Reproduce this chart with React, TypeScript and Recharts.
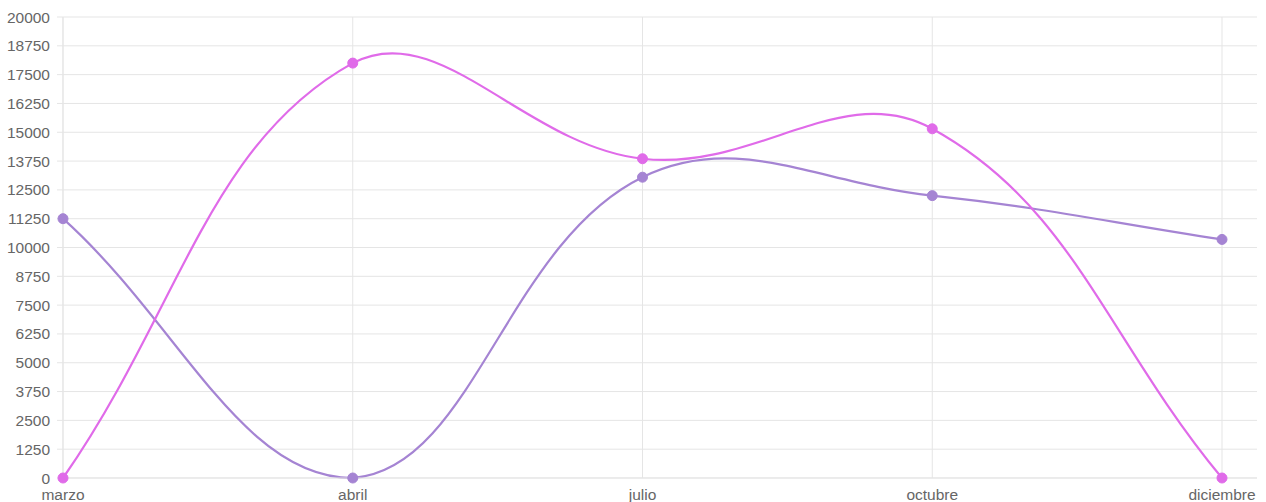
import React from 'react'
import { LineChart, Line, XAxis, YAxis, CartesianGrid, ReferenceLine } from 'recharts'

const months = ['marzo', 'abril', 'julio', 'octubre', 'diciembre']
const pinkValues = [0, 18000, 13850, 15150, 0]
const purpleValues = [11250, 0, 13050, 12250, 10350]
const yTicks = [
  0, 1250, 2500, 3750, 5000, 6250, 7500, 8750, 10000, 11250, 12500, 13750, 15000,
  16250, 17500, 18750, 20000,
]

const WIDTH = 1266
const HEIGHT = 502
const MARGIN = { top: 17, right: 9, bottom: 0, left: 0 }
const Y_AXIS_WIDTH = 63
const X_AXIS_HEIGHT = 24

// plot area, used to cap the bezier control points like chart.js does
const area = {
  left: MARGIN.left + Y_AXIS_WIDTH,
  right: WIDTH - MARGIN.right,
  top: MARGIN.top,
  bottom: HEIGHT - MARGIN.bottom - X_AXIS_HEIGHT,
}

const clamp = (v: number, lo: number, hi: number) => Math.max(lo, Math.min(hi, v))

// chart.js style spline (tension 0.4) as a d3 curve factory
const splineCurve = (tension: number) => (context: any) => {
  let pts: number[][] = []
  return {
    areaStart() {},
    areaEnd() {},
    lineStart() {
      pts = []
    },
    point(x: number, y: number) {
      pts.push([+x, +y])
    },
    lineEnd() {
      const n = pts.length
      if (!n) return
      const cps = pts.map((p, i) => {
        const prev = pts[i - 1] || p
        const next = pts[i + 1] || p
        const d01 = Math.hypot(p[0] - prev[0], p[1] - prev[1])
        const d12 = Math.hypot(next[0] - p[0], next[1] - p[1])
        let s01 = d01 / (d01 + d12)
        let s12 = d12 / (d01 + d12)
        if (isNaN(s01)) s01 = 0
        if (isNaN(s12)) s12 = 0
        const fa = tension * s01
        const fb = tension * s12
        const before = [
          clamp(p[0] - fa * (next[0] - prev[0]), area.left, area.right),
          clamp(p[1] - fa * (next[1] - prev[1]), area.top, area.bottom),
        ]
        const after = [
          clamp(p[0] + fb * (next[0] - prev[0]), area.left, area.right),
          clamp(p[1] + fb * (next[1] - prev[1]), area.top, area.bottom),
        ]
        return { before, after }
      })
      context.moveTo(pts[0][0], pts[0][1])
      for (let i = 1; i < n; i++) {
        const a = cps[i - 1].after
        const b = cps[i].before
        context.bezierCurveTo(a[0], a[1], b[0], b[1], pts[i][0], pts[i][1])
      }
    },
  }
}

const curve = splineCurve(0.4)

const data = months.map((month, i) => ({
  month,
  pink: pinkValues[i],
  purple: purpleValues[i],
}))

const PINK = '#e06be9'
const PURPLE = '#a584d3'
const GRID = '#e5e5e5'
const FONT = "'Liberation Sans', Arial, sans-serif"

export default function App() {
  return (
    <div style={{ position: 'absolute', left: 0, top: 0, width: WIDTH, height: HEIGHT, background: '#fff' }}>
      <LineChart width={WIDTH} height={HEIGHT} data={data} margin={MARGIN}>
        <CartesianGrid stroke={GRID} strokeWidth={1} vertical={false} />
        {months.map(m => (
          <ReferenceLine key={m} x={m} stroke={GRID} strokeWidth={1} />
        ))}
        <XAxis
          dataKey="month"
          height={X_AXIS_HEIGHT}
          padding={{ left: 0, right: 35 }}
          tickLine={false}
          tickSize={0}
          tickMargin={11}
          axisLine={{ stroke: GRID }}
          interval={0}
          tick={{ fill: '#666', fontSize: 15.5, fontFamily: FONT }}
        />
        <YAxis
          width={Y_AXIS_WIDTH}
          domain={[0, 20000]}
          ticks={yTicks}
          interval={0}
          tickSize={6}
          tickMargin={7}
          tickLine={{ stroke: GRID }}
          axisLine={{ stroke: GRID }}
          tick={{ fill: '#666', fontSize: 15.5, fontFamily: FONT }}
        />
        <Line
          dataKey="purple"
          type={curve as any}
          stroke={PURPLE}
          strokeWidth={2.2}
          dot={{ r: 5, fill: PURPLE, stroke: PURPLE, strokeWidth: 1 }}
          activeDot={false}
          isAnimationActive={false}
        />
        <Line
          dataKey="pink"
          type={curve as any}
          stroke={PINK}
          strokeWidth={2.2}
          dot={{ r: 5, fill: PINK, stroke: PINK, strokeWidth: 1 }}
          activeDot={false}
          isAnimationActive={false}
        />
      </LineChart>
    </div>
  )
}
